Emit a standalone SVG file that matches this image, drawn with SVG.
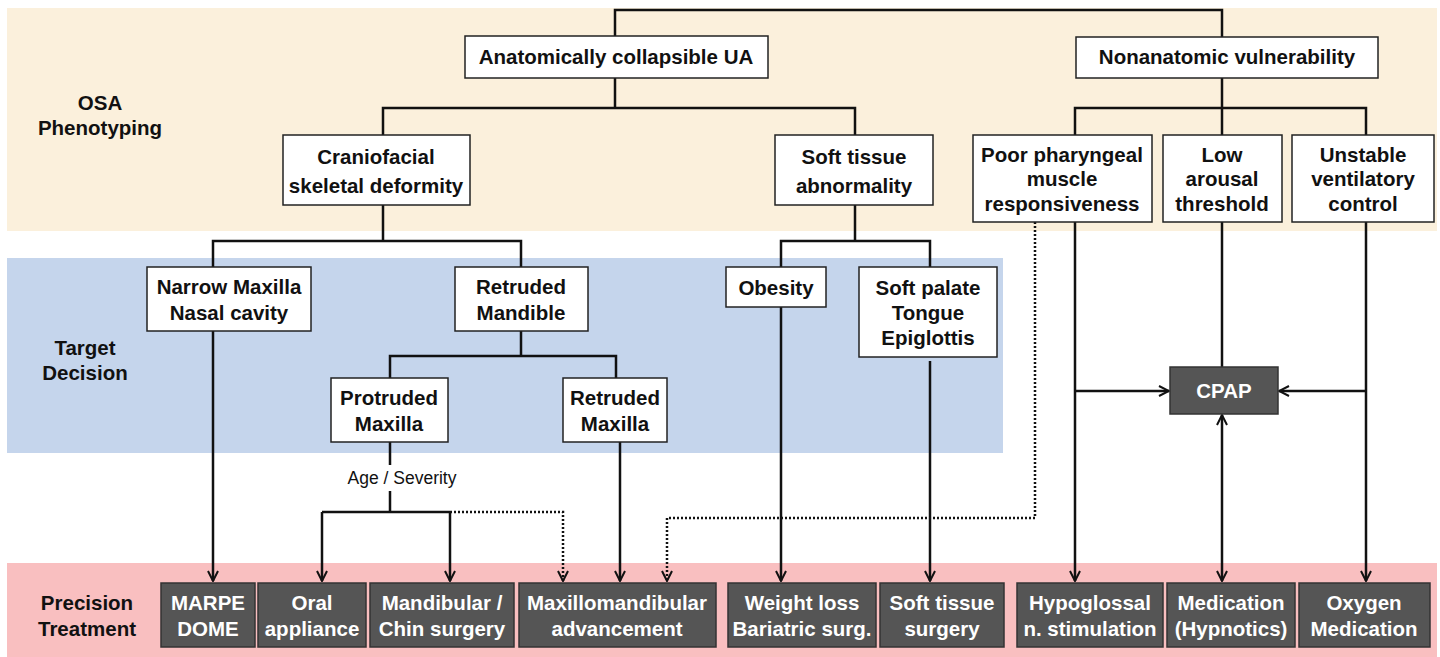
<svg xmlns="http://www.w3.org/2000/svg" width="1440" height="657" viewBox="0 0 1440 657">
<style>
text{font-family:"Liberation Sans",Arial,sans-serif;font-weight:bold;font-size:20.5px;text-anchor:middle;fill:#111}
.wb{fill:#fff;stroke:#222;stroke-width:1.5}
.db{fill:#555;stroke:#333;stroke-width:1.5}
.dt{fill:#fff}
.ln{fill:none;stroke:#111;stroke-width:2.5}
.dot{fill:none;stroke:#111;stroke-width:2.5;stroke-dasharray:2 2}
.lab{font-weight:normal;font-size:17.5px}
</style>
<defs>
<marker id="arr" viewBox="0 0 12 12" refX="11" refY="6" markerWidth="12" markerHeight="12" markerUnits="userSpaceOnUse" orient="auto-start-reverse">
<path d="M1,1 L11,6 L1,11" fill="none" stroke="#111" stroke-width="2"/>
</marker>
</defs>
<g id="bands">
<rect x="7" y="8" width="1430" height="223" fill="#FBF0DC"/>
<rect x="7" y="258" width="996" height="195" fill="#C5D5EC"/>
<rect x="7" y="563" width="1430" height="94" fill="#F9BFC0"/>
<text x="100" y="110">OSA</text>
<text x="100" y="135">Phenotyping</text>
<text x="85" y="355">Target</text>
<text x="85" y="380">Decision</text>
<text x="87" y="610">Precision</text>
<text x="87" y="636">Treatment</text>
</g>
<g id="connectors">
<path class="ln" d="M615,36 V10 H1222 V37"/>
<path class="ln" d="M615,78 V108 M383,135 V108 H855 V135"/>
<path class="ln" d="M1222,78 V135 M1075,135 V108 H1366 V135"/>
<path class="ln" d="M383,205 V241 M213,267 V241 H521 V267"/>
<path class="ln" d="M521,331 V356 M390,378 V356 H616 V378"/>
<path class="ln" d="M855,205 V241 M781,267 V241 H930 V267"/>
<path class="ln" d="M390,442 V465 M390,491 V512 M322,512 H450"/>
<path class="ln" d="M213,331 V581" marker-end="url(#arr)"/>
<path class="ln" d="M322,512 V581" marker-end="url(#arr)"/>
<path class="ln" d="M450,512 V581" marker-end="url(#arr)"/>
<path class="dot" d="M450,512 H563 V581" marker-end="url(#arr)"/>
<path class="ln" d="M620,442 V581" marker-end="url(#arr)"/>
<path class="ln" d="M781,307 V581" marker-end="url(#arr)"/>
<path class="ln" d="M930,361 V581" marker-end="url(#arr)"/>
<path class="dot" d="M1035,222 V518 H667 V581" marker-end="url(#arr)"/>
<path class="ln" d="M1075,222 V581" marker-end="url(#arr)"/>
<path class="ln" d="M1075,391 H1169" marker-end="url(#arr)"/>
<path class="ln" d="M1222,222 V367"/>
<path class="ln" d="M1222,415 V581" marker-start="url(#arr)" marker-end="url(#arr)"/>
<path class="ln" d="M1366,222 V581" marker-end="url(#arr)"/>
<path class="ln" d="M1366,391 H1279" marker-end="url(#arr)"/>
<text class="lab" x="402" y="484">Age / Severity</text>
</g>
<g id="n-anat"><rect class="wb" x="465" y="36" width="303" height="42"/><text x="616" y="64">Anatomically collapsible UA</text></g>
<g id="n-nonanat"><rect class="wb" x="1076" y="37" width="302" height="41"/><text x="1227" y="64">Nonanatomic vulnerability</text></g>
<g id="n-cranio"><rect class="wb" x="283" y="135" width="187" height="70"/><text x="376" y="164">Craniofacial</text><text x="376" y="193">skeletal deformity</text></g>
<g id="n-soft"><rect class="wb" x="775" y="135" width="158" height="70"/><text x="854" y="164">Soft tissue</text><text x="854" y="193">abnormality</text></g>
<g id="n-poor"><rect class="wb" x="973" y="135" width="179" height="87"/><text x="1062" y="162">Poor pharyngeal</text><text x="1062" y="186">muscle</text><text x="1062" y="211">responsiveness</text></g>
<g id="n-low"><rect class="wb" x="1163" y="135" width="119" height="87"/><text x="1222" y="162">Low</text><text x="1222" y="186">arousal</text><text x="1222" y="211">threshold</text></g>
<g id="n-unstable"><rect class="wb" x="1292" y="135" width="142" height="87"/><text x="1363" y="162">Unstable</text><text x="1363" y="186">ventilatory</text><text x="1363" y="211">control</text></g>
<g id="n-narrow"><rect class="wb" x="147" y="267" width="164" height="64"/><text x="229" y="294">Narrow Maxilla</text><text x="229" y="320">Nasal cavity</text></g>
<g id="n-retmand"><rect class="wb" x="455" y="267" width="133" height="64"/><text x="521" y="294">Retruded</text><text x="521" y="320">Mandible</text></g>
<g id="n-obesity"><rect class="wb" x="726" y="267" width="100" height="40"/><text x="776" y="295">Obesity</text></g>
<g id="n-softpal"><rect class="wb" x="859" y="267" width="138" height="90"/><text x="928" y="295">Soft palate</text><text x="928" y="320">Tongue</text><text x="928" y="345">Epiglottis</text></g>
<g id="n-protmax"><rect class="wb" x="331" y="378" width="117" height="64"/><text x="389" y="405">Protruded</text><text x="389" y="431">Maxilla</text></g>
<g id="n-retmax"><rect class="wb" x="563" y="378" width="104" height="64"/><text x="615" y="405">Retruded</text><text x="615" y="431">Maxilla</text></g>
<g id="n-cpap"><rect class="db" x="1170" y="367" width="108" height="47"/><text class="dt" x="1224" y="398">CPAP</text></g>
<g id="t-marpe"><rect class="db" x="161" y="583" width="94" height="64"/><text class="dt" x="208" y="610">MARPE</text><text class="dt" x="208" y="636">DOME</text></g>
<g id="t-oral"><rect class="db" x="258" y="583" width="108" height="64"/><text class="dt" x="312" y="610">Oral</text><text class="dt" x="312" y="636">appliance</text></g>
<g id="t-mand"><rect class="db" x="370" y="583" width="144" height="64"/><text class="dt" x="442" y="610">Mandibular /</text><text class="dt" x="442" y="636">Chin surgery</text></g>
<g id="t-mma"><rect class="db" x="519" y="583" width="197" height="64"/><text class="dt" x="617" y="610">Maxillomandibular</text><text class="dt" x="617" y="636">advancement</text></g>
<g id="t-weight"><rect class="db" x="728" y="583" width="148" height="64"/><text class="dt" x="802" y="610">Weight loss</text><text class="dt" x="802" y="636">Bariatric surg.</text></g>
<g id="t-softs"><rect class="db" x="880" y="583" width="124" height="64"/><text class="dt" x="942" y="610">Soft tissue</text><text class="dt" x="942" y="636">surgery</text></g>
<g id="t-hypo"><rect class="db" x="1017" y="583" width="146" height="64"/><text class="dt" x="1090" y="610">Hypoglossal</text><text class="dt" x="1090" y="636">n. stimulation</text></g>
<g id="t-med"><rect class="db" x="1167" y="583" width="128" height="64"/><text class="dt" x="1231" y="610">Medication</text><text class="dt" x="1231" y="636">(Hypnotics)</text></g>
<g id="t-oxy"><rect class="db" x="1299" y="583" width="131" height="64"/><text class="dt" x="1364" y="610">Oxygen</text><text class="dt" x="1364" y="636">Medication</text></g>
</svg>
